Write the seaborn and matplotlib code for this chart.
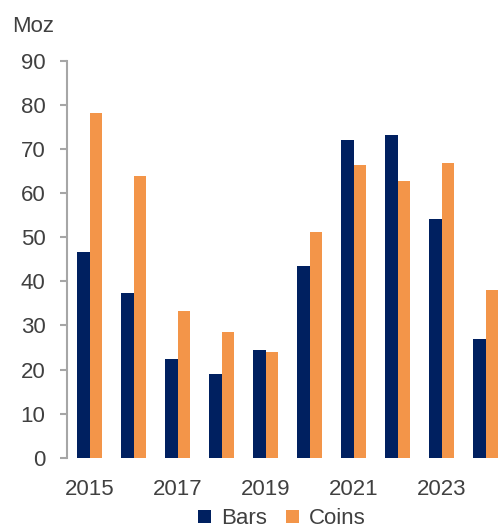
import matplotlib
matplotlib.use("Agg")
import matplotlib.pyplot as plt
from matplotlib.patches import Patch
import seaborn as sns
import pandas as pd

years = [2015, 2016, 2017, 2018, 2019, 2020, 2021, 2022, 2023, 2024]
bars = [46.7, 37.4, 22.4, 19.0, 24.5, 43.5, 72.1, 73.1, 54.2, 27.0]
coins = [78.2, 63.8, 33.3, 28.6, 24.0, 51.1, 66.3, 62.7, 66.8, 38.0]
series_names = ["Bars", "Coins"]
tick_years = ["2015", "2017", "2019", "2021", "2023"]
colors = ["#002060", "#F39549"]

df = pd.DataFrame({
    "year": [str(y) for y in years] * 2,
    "value": bars + coins,
    "type": [series_names[0]] * len(years) + [series_names[1]] * len(years),
})

sns.set_style("white")
plt.rcParams["font.family"] = ["Liberation Sans", "DejaVu Sans"]
FS = 16
TXT = "#404040"

fig = plt.figure(figsize=(5.0, 5.29), dpi=100)
ax = fig.add_axes([0.134, 0.1348, 0.866, 0.75])

sns.barplot(data=df, x="year", y="value", hue="type", palette=colors,
            width=0.57, saturation=1, linewidth=0, ax=ax, legend=False)

ax.set_ylim(0, 90)
ax.set_xlim(-0.52, 9.32)
ax.set_yticks(range(0, 91, 10))
ax.set_xticks([years.index(int(t)) for t in tick_years])
ax.set_xticklabels(tick_years)
ax.set_xlabel("")
ax.set_ylabel("")

for s in ["top", "right", "bottom"]:
    ax.spines[s].set_visible(False)
ax.spines["left"].set_color("#A6A6A6")
ax.spines["left"].set_linewidth(1.5)

ax.tick_params(axis="y", length=5, width=1.5, color="#A6A6A6", pad=10.5,
               labelsize=FS, labelcolor=TXT, left=True)
ax.tick_params(axis="x", length=0, pad=15, labelsize=FS, labelcolor=TXT)

fig.text(0.024, 0.939, "Moz", fontsize=FS, color=TXT, ha="left", va="baseline")

handles = [Patch(facecolor=c, edgecolor="none") for c in colors]
fig.legend(handles, series_names, loc="center", bbox_to_anchor=(0.564, 0.019),
           ncol=2, frameon=False, fontsize=FS, labelcolor=TXT,
           handlelength=0.57, handleheight=0.57, handletextpad=0.44,
           columnspacing=0.89, borderpad=0, borderaxespad=0)

fig.savefig("out.png", dpi=100)
